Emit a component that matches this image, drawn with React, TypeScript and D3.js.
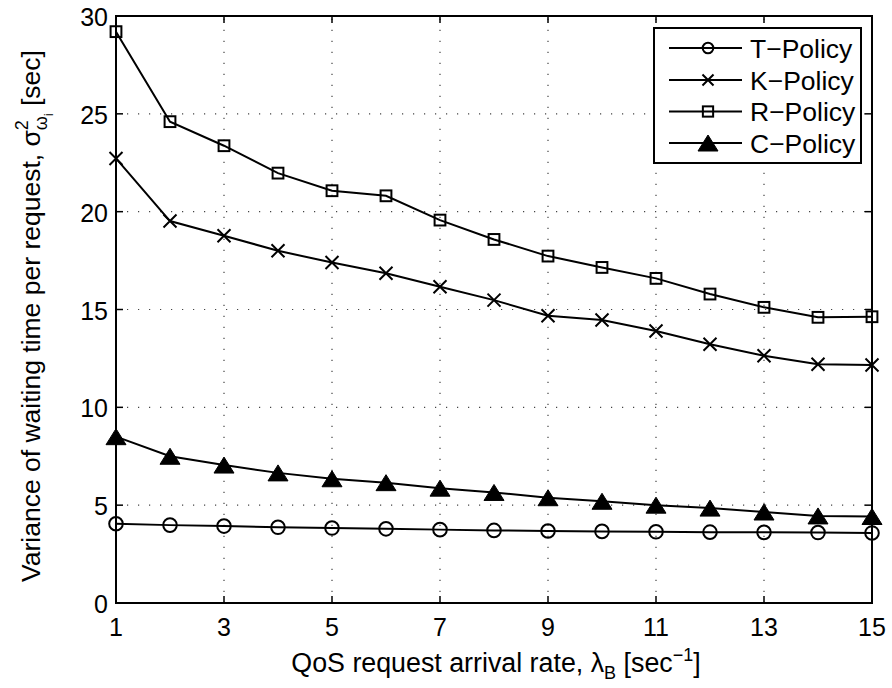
import React from "react";
import * as d3 from "d3";

// Arrival rates (x) and per-policy variance of waiting time (y)
const rates = [1, 2, 3, 4, 5, 6, 7, 8, 9, 10, 11, 12, 13, 14, 15];
const tPolicy = [4.05, 3.98, 3.93, 3.87, 3.83, 3.79, 3.75, 3.71, 3.68, 3.66, 3.64, 3.62, 3.61, 3.6, 3.58];
const kPolicy = [22.72, 19.52, 18.77, 18.0, 17.4, 16.85, 16.16, 15.48, 14.68, 14.46, 13.9, 13.22, 12.64, 12.2, 12.16];
const rPolicy = [29.2, 24.6, 23.37, 21.97, 21.07, 20.81, 19.57, 18.58, 17.73, 17.15, 16.59, 15.79, 15.11, 14.6, 14.63];
const cPolicy = [8.5, 7.5, 7.05, 6.65, 6.35, 6.15, 5.87, 5.65, 5.38, 5.2, 5.0, 4.85, 4.65, 4.45, 4.42];

const xTicks = [1, 3, 5, 7, 9, 11, 13, 15];
const yTicks = [0, 5, 10, 15, 20, 25, 30];
const seriesNames = ["T\u2212Policy", "K\u2212Policy", "R\u2212Policy", "C\u2212Policy"];
const seriesMarkers = ["circle", "cross", "square", "triangle"];

const W = 892;
const H = 688;
const left = 116;
const right = 872;
const top = 16;
const bottom = 603;
const FONT = "'Liberation Sans', Arial, Helvetica, sans-serif";

const x = d3.scaleLinear().domain([1, 15]).range([left, right]);
const y = d3.scaleLinear().domain([0, 30]).range([bottom, top]);

function Marker({ kind, cx, cy, s = 1 }: { kind: string; cx: number; cy: number; s?: number }) {
  if (kind === "circle") {
    return <circle cx={cx} cy={cy} r={6.8 * s} fill="none" stroke="#000" strokeWidth={2} />;
  }
  if (kind === "square") {
    const h = 5.4 * s;
    return <rect x={cx - h} y={cy - h} width={2 * h} height={2 * h} fill="none" stroke="#000" strokeWidth={2} />;
  }
  if (kind === "cross") {
    const h = 6.5 * s;
    return (
      <path
        d={`M${cx - h},${cy - h}L${cx + h},${cy + h}M${cx - h},${cy + h}L${cx + h},${cy - h}`}
        stroke="#000"
        strokeWidth={2}
        fill="none"
      />
    );
  }
  const hw = 10 * s;
  const hh = 8 * s;
  return <path d={`M${cx},${cy - hh}L${cx + hw},${cy + hh}L${cx - hw},${cy + hh}Z`} fill="#000" stroke="#000" strokeWidth={1} />;
}

export default function App() {
  const allSeries = [tPolicy, kPolicy, rPolicy, cPolicy];
  const line = d3
    .line<number>()
    .x((_, i) => x(rates[i]))
    .y((d) => y(d));

  const legX = 654;
  const legY = 28;
  const legW = 207;
  const legH = 135;
  const rowY = [48, 80, 111.5, 143];
  const legScale = [0.78, 0.85, 0.95, 1];

  return (
    <svg width={W} height={H} style={{ position: "absolute", left: 0, top: 0, background: "#fff" }} fontFamily={FONT}>
      <rect x={0} y={0} width={W} height={H} fill="#fff" />
      {/* grid */}
      <g stroke="#444" strokeWidth={1.2} strokeDasharray="1.2 9.8">
        {xTicks.map((t) => (
          <line key={"gx" + t} x1={x(t)} x2={x(t)} y1={bottom} y2={top} />
        ))}
        {yTicks.map((t) => (
          <line key={"gy" + t} x1={left} x2={right} y1={y(t)} y2={y(t)} />
        ))}
      </g>
      {/* ticks */}
      <g stroke="#000" strokeWidth={1.5}>
        {xTicks.map((t) => (
          <g key={"tx" + t}>
            <line x1={x(t)} x2={x(t)} y1={bottom} y2={bottom - 7} />
            <line x1={x(t)} x2={x(t)} y1={top} y2={top + 7} />
          </g>
        ))}
        {yTicks.map((t) => (
          <g key={"ty" + t}>
            <line x1={left} x2={left + 7} y1={y(t)} y2={y(t)} />
            <line x1={right} x2={right - 7} y1={y(t)} y2={y(t)} />
          </g>
        ))}
      </g>
      {/* series */}
      {allSeries.map((s, k) => (
        <g key={"s" + k}>
          <path d={line(s) || ""} fill="none" stroke="#000" strokeWidth={2} />
          {s.map((v, i) => (
            <Marker key={i} kind={seriesMarkers[k]} cx={x(rates[i])} cy={y(v)} />
          ))}
        </g>
      ))}
      {/* axes box */}
      <rect x={left} y={top} width={right - left} height={bottom - top} fill="none" stroke="#000" strokeWidth={2} />
      {/* tick labels */}
      <g fontSize={25} fill="#000">
        {xTicks.map((t) => (
          <text key={"lx" + t} x={x(t)} y={636} textAnchor="middle">
            {t}
          </text>
        ))}
        {yTicks.map((t) => (
          <text key={"ly" + t} x={108} y={y(t) + 10} textAnchor="end">
            {t}
          </text>
        ))}
      </g>
      {/* x label */}
      <text x={(left + right) / 2 + 2} y={672} textAnchor="middle" fontSize={26.8} fill="#000">
        QoS request arrival rate, λ
        <tspan fontSize={18} dy={7}>B</tspan>
        <tspan dy={-7}> [sec</tspan>
        <tspan fontSize={18} dy={-11}>−1</tspan>
        <tspan dy={11}>]</tspan>
      </text>
      {/* y label */}
      <text transform={`translate(40, 582) rotate(-90)`} textAnchor="start" fontSize={26.5} fill="#000">
        Variance of waiting time per request, σ
        <tspan fontSize={18} dy={-12}>2</tspan>
        <tspan fontSize={18} dx={-10} dy={19}>ω</tspan>
        <tspan fontSize={12} dy={6}>i</tspan>
        <tspan dy={-13}> [sec]</tspan>
      </text>
      {/* legend */}
      <rect x={legX} y={legY} width={legW} height={legH} fill="#fff" stroke="#000" strokeWidth={2} />
      {seriesNames.map((name, k) => (
        <g key={"lg" + k}>
          <line x1={669} x2={742} y1={rowY[k]} y2={rowY[k]} stroke="#000" strokeWidth={2} />
          <Marker kind={seriesMarkers[k]} cx={708} cy={rowY[k]} s={legScale[k]} />
          <text x={750} y={rowY[k] + 9.5} fontSize={26.5} fill="#000">
            {name}
          </text>
        </g>
      ))}
    </svg>
  );
}
